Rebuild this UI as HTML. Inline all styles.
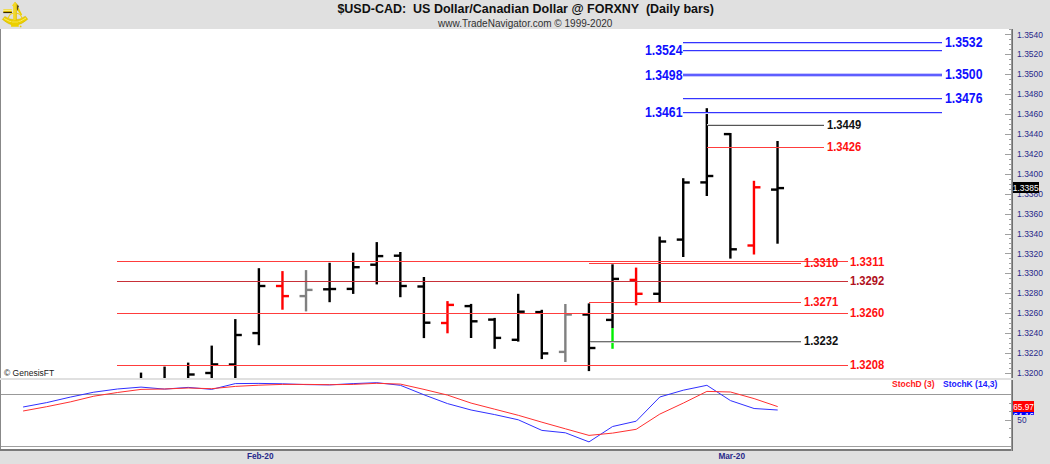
<!DOCTYPE html>
<html><head><meta charset="utf-8"><title>USD-CAD</title>
<style>
html,body{margin:0;padding:0;background:#e0e0e0;}
body{width:1050px;height:464px;overflow:hidden;position:relative;}
svg{position:absolute;left:0;top:0;}
text{font-family:"Liberation Sans",Arial,sans-serif;}
</style></head><body>
<svg width="1050" height="464" viewBox="0 0 1050 464">
<rect x="0" y="0" width="1050" height="464" fill="#e0e0e0"/>
<g>
<defs>
<linearGradient id="gt" x1="0" y1="0" x2="0" y2="1"><stop offset="0" stop-color="#f0d000"/><stop offset="0.35" stop-color="#fff8a0"/><stop offset="0.7" stop-color="#f0d000"/><stop offset="1" stop-color="#c8a000"/></linearGradient>
<linearGradient id="ga" x1="0" y1="0" x2="1" y2="0"><stop offset="0" stop-color="#f8e040"/><stop offset="0.5" stop-color="#f0d000"/><stop offset="1" stop-color="#d8b800"/></linearGradient>
</defs>
<path d="M2.4,19.4 L4.8,16.4 Q15,23.2 25.4,16.2 L27.8,19.2 Q15,31 2.4,19.4 Z" fill="#ecd000" stroke="#c8a800" stroke-width="0.4"/>
<path d="M4,18.5 Q15,26 26,18" fill="none" stroke="#fff080" stroke-width="0.8"/>
<rect x="3.3" y="9.2" width="8.6" height="3" fill="url(#gt)"/>
<rect x="3.3" y="11.9" width="8.6" height="1.2" fill="#3a2c00"/>
<path d="M8.3,18.6 Q9,13.8 13.2,13.2" fill="none" stroke="#f0d020" stroke-width="1.1"/>
<path d="M16.6,13.2 Q21,13.6 21.8,18.4" fill="none" stroke="#f0d020" stroke-width="1.1"/>
<path d="M16.2,6 L19,8.5 L22.2,14.8 L20.8,15.6 L16.4,8.6 Z" fill="#ecd000"/>
<path d="M17.4,4.6 L19,6.2 L18.4,7.4 L17.6,10.6 L17,10.4 L16.8,6.4 Z" fill="#5a4a18"/>
<path d="M15,1.8 L17.6,4.6 L16.8,6.4 L16.8,21 L13.2,21 L13.2,6.4 L11.9,5.4 Z" fill="url(#ga)"/>
<path d="M14.6,3 L15.4,3 L15.4,20 L14.6,20 Z" fill="#fff39a" opacity="0.6"/>
<path d="M11.4,20.6 L18.4,20.6 L18.8,26.8 L11,26.8 Z" fill="#ecd000"/>
<path d="M12,22 L18,22" stroke="#fff080" stroke-width="0.6"/>
<circle cx="20.6" cy="26.4" r="0.9" fill="#e8c800"/>
</g>
<text x="525.7" y="13.2" text-anchor="middle" font-size="12.5" font-weight="bold" fill="#101010" xml:space="preserve" style="white-space:pre">$USD-CAD:  US Dollar/Canadian Dollar @ FORXNY  (Daily bars)</text>
<text x="525.2" y="26.6" text-anchor="middle" font-size="10" fill="#303030">www.TradeNavigator.com © 1999-2020</text>
<g shape-rendering="crispEdges">
<rect x="0" y="29" width="1" height="349" fill="#888"/>
<rect x="1" y="29" width="1010" height="349" fill="#fff"/>
<rect x="0" y="380" width="1" height="71" fill="#888"/>
<rect x="1" y="380" width="1010" height="66" fill="#fff"/>
<rect x="1" y="446" width="1010" height="1" fill="#a0a0a0"/>
<rect x="1" y="447" width="1010" height="2" fill="#fff"/>
<rect x="0" y="449" width="1013" height="2" fill="#7a7a7a"/>
<rect x="1" y="394" width="1010" height="1" fill="#999"/>
</g>
<g><rect x="139.81" y="372.60" width="2.4" height="5.40" fill="#000"/><rect x="163.38" y="366.60" width="2.4" height="11.40" fill="#000"/><rect x="186.96" y="362.60" width="2.4" height="15.40" fill="#000"/><rect x="188.16" y="373.30" width="6.50" height="2.4" fill="#000"/><rect x="210.53" y="345.60" width="2.4" height="32.40" fill="#000"/><rect x="205.23" y="371.80" width="6.50" height="2.4" fill="#000"/><rect x="211.73" y="363.20" width="6.50" height="2.4" fill="#000"/><rect x="234.11" y="319.10" width="2.4" height="58.90" fill="#000"/><rect x="228.81" y="363.30" width="6.50" height="2.4" fill="#000"/><rect x="235.31" y="333.80" width="6.50" height="2.4" fill="#000"/><rect x="257.69" y="268.20" width="2.4" height="77.00" fill="#000"/><rect x="252.38" y="331.90" width="6.50" height="2.4" fill="#000"/><rect x="258.88" y="284.80" width="6.50" height="2.4" fill="#000"/><rect x="281.26" y="271.10" width="2.4" height="38.60" fill="#f00"/><rect x="275.96" y="284.80" width="6.50" height="2.4" fill="#f00"/><rect x="282.46" y="294.90" width="6.50" height="2.4" fill="#f00"/><rect x="304.83" y="270.10" width="2.4" height="41.30" fill="#808080"/><rect x="299.53" y="294.90" width="6.50" height="2.4" fill="#808080"/><rect x="306.03" y="288.70" width="6.50" height="2.4" fill="#808080"/><rect x="328.41" y="262.80" width="2.4" height="39.40" fill="#000"/><rect x="323.11" y="288.10" width="6.50" height="2.4" fill="#000"/><rect x="329.61" y="287.80" width="6.50" height="2.4" fill="#000"/><rect x="351.98" y="252.70" width="2.4" height="41.20" fill="#000"/><rect x="346.68" y="287.70" width="6.50" height="2.4" fill="#000"/><rect x="353.18" y="266.00" width="6.50" height="2.4" fill="#000"/><rect x="375.56" y="242.10" width="2.4" height="42.30" fill="#000"/><rect x="370.26" y="263.50" width="6.50" height="2.4" fill="#000"/><rect x="376.76" y="254.90" width="6.50" height="2.4" fill="#000"/><rect x="399.13" y="252.00" width="2.4" height="45.20" fill="#000"/><rect x="393.83" y="254.50" width="6.50" height="2.4" fill="#000"/><rect x="400.33" y="284.80" width="6.50" height="2.4" fill="#000"/><rect x="422.71" y="277.00" width="2.4" height="61.10" fill="#000"/><rect x="417.41" y="285.30" width="6.50" height="2.4" fill="#000"/><rect x="423.91" y="321.50" width="6.50" height="2.4" fill="#000"/><rect x="446.28" y="301.10" width="2.4" height="32.20" fill="#f00"/><rect x="440.98" y="321.80" width="6.50" height="2.4" fill="#f00"/><rect x="447.48" y="303.70" width="6.50" height="2.4" fill="#f00"/><rect x="469.86" y="303.90" width="2.4" height="34.10" fill="#000"/><rect x="464.56" y="304.90" width="6.50" height="2.4" fill="#000"/><rect x="471.06" y="320.10" width="6.50" height="2.4" fill="#000"/><rect x="493.44" y="317.90" width="2.4" height="30.90" fill="#000"/><rect x="488.13" y="318.40" width="6.50" height="2.4" fill="#000"/><rect x="494.63" y="336.70" width="6.50" height="2.4" fill="#000"/><rect x="517.01" y="293.80" width="2.4" height="47.80" fill="#000"/><rect x="511.71" y="338.60" width="6.50" height="2.4" fill="#000"/><rect x="518.21" y="310.50" width="6.50" height="2.4" fill="#000"/><rect x="540.58" y="309.80" width="2.4" height="49.30" fill="#000"/><rect x="535.28" y="310.90" width="6.50" height="2.4" fill="#000"/><rect x="541.78" y="352.20" width="6.50" height="2.4" fill="#000"/><rect x="564.16" y="304.00" width="2.4" height="58.00" fill="#808080"/><rect x="558.86" y="350.70" width="6.50" height="2.4" fill="#808080"/><rect x="565.36" y="313.30" width="6.50" height="2.4" fill="#808080"/><rect x="587.73" y="303.40" width="2.4" height="67.70" fill="#000"/><rect x="582.43" y="313.30" width="6.50" height="2.4" fill="#000"/><rect x="588.93" y="346.80" width="6.50" height="2.4" fill="#000"/><rect x="611.31" y="264.30" width="2.4" height="63.70" fill="#000"/><rect x="611.31" y="328" width="2.4" height="20.80" fill="#00f000"/><rect x="606.01" y="318.70" width="6.50" height="2.4" fill="#000"/><rect x="612.51" y="277.70" width="6.50" height="2.4" fill="#000"/><rect x="634.88" y="267.60" width="2.4" height="37.70" fill="#f00"/><rect x="629.59" y="278.70" width="6.50" height="2.4" fill="#f00"/><rect x="636.09" y="292.60" width="6.50" height="2.4" fill="#f00"/><rect x="658.46" y="236.60" width="2.4" height="65.40" fill="#000"/><rect x="653.16" y="292.60" width="6.50" height="2.4" fill="#000"/><rect x="659.66" y="240.30" width="6.50" height="2.4" fill="#000"/><rect x="682.03" y="178.20" width="2.4" height="78.80" fill="#000"/><rect x="676.74" y="238.40" width="6.50" height="2.4" fill="#000"/><rect x="683.24" y="181.30" width="6.50" height="2.4" fill="#000"/><rect x="705.61" y="108.20" width="2.4" height="87.80" fill="#000"/><rect x="700.31" y="181.20" width="6.50" height="2.4" fill="#000"/><rect x="706.81" y="174.80" width="6.50" height="2.4" fill="#000"/><rect x="729.18" y="133.00" width="2.4" height="125.60" fill="#000"/><rect x="723.88" y="132.90" width="6.50" height="2.4" fill="#000"/><rect x="730.38" y="248.10" width="6.50" height="2.4" fill="#000"/><rect x="752.76" y="180.80" width="2.4" height="73.70" fill="#f00"/><rect x="747.46" y="244.30" width="6.50" height="2.4" fill="#f00"/><rect x="753.96" y="186.10" width="6.50" height="2.4" fill="#f00"/><rect x="776.33" y="141.00" width="2.4" height="102.70" fill="#000"/><rect x="771.03" y="188.40" width="6.50" height="2.4" fill="#000"/><rect x="777.53" y="186.90" width="6.50" height="2.4" fill="#000"/></g>
<g shape-rendering="crispEdges"><rect x="683" y="42" width="259" height="1" fill="#3434ff"/><rect x="683" y="43" width="259" height="1" fill="#c8c8ff"/><rect x="683" y="50" width="259" height="1" fill="#3434ff"/><rect x="683" y="51" width="259" height="1" fill="#d0d0ff"/><rect x="683" y="73" width="259" height="1" fill="#c8c8ff"/><rect x="683" y="74" width="259" height="2" fill="#5e5eff"/><rect x="683" y="76" width="259" height="1" fill="#c8c8ff"/><rect x="683" y="98" width="259" height="1" fill="#3434ff"/><rect x="683" y="99" width="259" height="1" fill="#d0d0ff"/><rect x="683" y="112" width="259" height="1" fill="#3434ff"/><rect x="683" y="113" width="259" height="1" fill="#d0d0ff"/><rect x="707" y="124" width="117" height="1" fill="#d8d8d8"/><rect x="707" y="125" width="117" height="1" fill="#555555"/><rect x="707" y="147" width="117" height="1" fill="#ff3c3c"/><rect x="117" y="261" width="731" height="1" fill="#ff3c3c"/><rect x="589" y="263" width="212" height="1" fill="#ff3c3c"/><rect x="117" y="281" width="731" height="1" fill="#c83038"/><rect x="589" y="302" width="212" height="1" fill="#ff3c3c"/><rect x="117" y="313" width="731" height="1" fill="#ff3c3c"/><rect x="590" y="341" width="211" height="1" fill="#707070"/><rect x="590" y="342" width="211" height="1" fill="#cccccc"/><rect x="117" y="365" width="731" height="1" fill="#ff3c3c"/></g>
<g><polyline points="23.1,407.0 46.7,402.6 70.3,397.1 93.8,392.2 117.4,389.0 141.0,387.1 164.6,389.1 188.2,387.4 211.7,389.4 235.3,383.6 258.9,383.4 282.5,383.8 306.1,384.6 329.6,384.9 353.2,383.6 376.8,382.7 400.4,385.3 424.0,394.8 447.5,403.6 471.1,410.0 494.7,414.6 518.3,419.8 541.9,430.4 565.4,432.8 589.0,441.9 612.6,426.5 636.2,421.2 659.8,397.0 683.3,390.2 706.9,385.3 730.5,400.6 754.1,408.5 777.7,410.0" fill="none" stroke="#3030ff" stroke-width="1"/><polyline points="23.1,411.0 46.7,406.7 70.3,401.9 93.8,396.2 117.4,392.5 141.0,389.4 164.6,389.0 188.2,388.0 211.7,388.7 235.3,386.4 258.9,385.2 282.5,384.4 306.1,384.4 329.6,384.7 353.2,384.4 376.8,383.3 400.4,384.1 424.0,389.4 447.5,395.1 471.1,403.1 494.7,409.2 518.3,415.3 541.9,422.2 565.4,428.8 589.0,435.4 612.6,433.1 636.2,429.3 659.8,414.1 683.3,403.1 706.9,391.4 730.5,392.0 754.1,398.6 777.7,406.6" fill="none" stroke="#ff3030" stroke-width="1"/></g>
<text x="945" y="46.9" fill="#1010ff" font-size="13.8" font-weight="bold" textLength="37.5" lengthAdjust="spacingAndGlyphs">1.3532</text><text x="645" y="55.3" fill="#1010ff" font-size="13.8" font-weight="bold" textLength="37.5" lengthAdjust="spacingAndGlyphs">1.3524</text><text x="645" y="79.9" fill="#1010ff" font-size="13.8" font-weight="bold" textLength="37.5" lengthAdjust="spacingAndGlyphs">1.3498</text><text x="945" y="78.9" fill="#1010ff" font-size="13.8" font-weight="bold" textLength="37.5" lengthAdjust="spacingAndGlyphs">1.3500</text><text x="945" y="102.9" fill="#1010ff" font-size="13.8" font-weight="bold" textLength="37.5" lengthAdjust="spacingAndGlyphs">1.3476</text><text x="645" y="116.9" fill="#1010ff" font-size="13.8" font-weight="bold" textLength="37.5" lengthAdjust="spacingAndGlyphs">1.3461</text><text x="827" y="129.0" fill="#101010" font-size="12.1" font-weight="bold" textLength="34.3" lengthAdjust="spacingAndGlyphs">1.3449</text><text x="827" y="151.0" fill="#ff1010" font-size="12.1" font-weight="bold" textLength="34.3" lengthAdjust="spacingAndGlyphs">1.3426</text><text x="850" y="265.5" fill="#ff1010" font-size="12.1" font-weight="bold" textLength="34.3" lengthAdjust="spacingAndGlyphs">1.3311</text><text x="804" y="266.8" fill="#ff1010" font-size="12.1" font-weight="bold" textLength="34.3" lengthAdjust="spacingAndGlyphs">1.3310</text><text x="850" y="285.0" fill="#b01020" font-size="12.1" font-weight="bold" textLength="34.3" lengthAdjust="spacingAndGlyphs">1.3292</text><text x="804" y="306.3" fill="#ff1010" font-size="12.1" font-weight="bold" textLength="34.3" lengthAdjust="spacingAndGlyphs">1.3271</text><text x="850" y="317.0" fill="#ff1010" font-size="12.1" font-weight="bold" textLength="34.3" lengthAdjust="spacingAndGlyphs">1.3260</text><text x="804" y="345.0" fill="#101010" font-size="12.1" font-weight="bold" textLength="34.3" lengthAdjust="spacingAndGlyphs">1.3232</text><text x="850" y="368.5" fill="#ff1010" font-size="12.1" font-weight="bold" textLength="34.3" lengthAdjust="spacingAndGlyphs">1.3208</text>
<text x="4" y="376" font-size="8.5" fill="#202020">© GenesisFT</text>
<text x="892" y="387.2" font-size="8.5" font-weight="bold" fill="#ff2020">StochD (3)</text>
<text x="943" y="387.2" font-size="8.5" font-weight="bold" fill="#2020ff">StochK (14,3)</text>
<g shape-rendering="crispEdges"><rect x="1013" y="0" width="37" height="464" fill="#e0e0e0"/><rect x="1011" y="29" width="1" height="349" fill="#9a9a9a"/><rect x="1012" y="29" width="1" height="349" fill="#707070"/><rect x="1011" y="380" width="1" height="71" fill="#9a9a9a"/><rect x="1012" y="380" width="1" height="71" fill="#707070"/><rect x="1009" y="29" width="2" height="1" fill="#a0a0a0"/><rect x="1005" y="34" width="6" height="1" fill="#a0a0a0"/><rect x="1009" y="39" width="2" height="1" fill="#a0a0a0"/><rect x="1009" y="44" width="2" height="1" fill="#a0a0a0"/><rect x="1009" y="49" width="2" height="1" fill="#a0a0a0"/><rect x="1005" y="54" width="6" height="1" fill="#a0a0a0"/><rect x="1009" y="59" width="2" height="1" fill="#a0a0a0"/><rect x="1009" y="64" width="2" height="1" fill="#a0a0a0"/><rect x="1009" y="69" width="2" height="1" fill="#a0a0a0"/><rect x="1005" y="74" width="6" height="1" fill="#a0a0a0"/><rect x="1009" y="79" width="2" height="1" fill="#a0a0a0"/><rect x="1009" y="84" width="2" height="1" fill="#a0a0a0"/><rect x="1009" y="89" width="2" height="1" fill="#a0a0a0"/><rect x="1005" y="94" width="6" height="1" fill="#a0a0a0"/><rect x="1009" y="99" width="2" height="1" fill="#a0a0a0"/><rect x="1009" y="104" width="2" height="1" fill="#a0a0a0"/><rect x="1009" y="109" width="2" height="1" fill="#a0a0a0"/><rect x="1005" y="114" width="6" height="1" fill="#a0a0a0"/><rect x="1009" y="119" width="2" height="1" fill="#a0a0a0"/><rect x="1009" y="124" width="2" height="1" fill="#a0a0a0"/><rect x="1009" y="129" width="2" height="1" fill="#a0a0a0"/><rect x="1005" y="134" width="6" height="1" fill="#a0a0a0"/><rect x="1009" y="139" width="2" height="1" fill="#a0a0a0"/><rect x="1009" y="144" width="2" height="1" fill="#a0a0a0"/><rect x="1009" y="149" width="2" height="1" fill="#a0a0a0"/><rect x="1005" y="154" width="6" height="1" fill="#a0a0a0"/><rect x="1009" y="159" width="2" height="1" fill="#a0a0a0"/><rect x="1009" y="164" width="2" height="1" fill="#a0a0a0"/><rect x="1009" y="169" width="2" height="1" fill="#a0a0a0"/><rect x="1005" y="174" width="6" height="1" fill="#a0a0a0"/><rect x="1009" y="179" width="2" height="1" fill="#a0a0a0"/><rect x="1009" y="184" width="2" height="1" fill="#a0a0a0"/><rect x="1009" y="189" width="2" height="1" fill="#a0a0a0"/><rect x="1005" y="194" width="6" height="1" fill="#a0a0a0"/><rect x="1009" y="199" width="2" height="1" fill="#a0a0a0"/><rect x="1009" y="204" width="2" height="1" fill="#a0a0a0"/><rect x="1009" y="209" width="2" height="1" fill="#a0a0a0"/><rect x="1005" y="214" width="6" height="1" fill="#a0a0a0"/><rect x="1009" y="219" width="2" height="1" fill="#a0a0a0"/><rect x="1009" y="224" width="2" height="1" fill="#a0a0a0"/><rect x="1009" y="229" width="2" height="1" fill="#a0a0a0"/><rect x="1005" y="234" width="6" height="1" fill="#a0a0a0"/><rect x="1009" y="238" width="2" height="1" fill="#a0a0a0"/><rect x="1009" y="243" width="2" height="1" fill="#a0a0a0"/><rect x="1009" y="248" width="2" height="1" fill="#a0a0a0"/><rect x="1005" y="253" width="6" height="1" fill="#a0a0a0"/><rect x="1009" y="258" width="2" height="1" fill="#a0a0a0"/><rect x="1009" y="263" width="2" height="1" fill="#a0a0a0"/><rect x="1009" y="268" width="2" height="1" fill="#a0a0a0"/><rect x="1005" y="273" width="6" height="1" fill="#a0a0a0"/><rect x="1009" y="278" width="2" height="1" fill="#a0a0a0"/><rect x="1009" y="283" width="2" height="1" fill="#a0a0a0"/><rect x="1009" y="288" width="2" height="1" fill="#a0a0a0"/><rect x="1005" y="293" width="6" height="1" fill="#a0a0a0"/><rect x="1009" y="298" width="2" height="1" fill="#a0a0a0"/><rect x="1009" y="303" width="2" height="1" fill="#a0a0a0"/><rect x="1009" y="308" width="2" height="1" fill="#a0a0a0"/><rect x="1005" y="313" width="6" height="1" fill="#a0a0a0"/><rect x="1009" y="318" width="2" height="1" fill="#a0a0a0"/><rect x="1009" y="323" width="2" height="1" fill="#a0a0a0"/><rect x="1009" y="328" width="2" height="1" fill="#a0a0a0"/><rect x="1005" y="333" width="6" height="1" fill="#a0a0a0"/><rect x="1009" y="338" width="2" height="1" fill="#a0a0a0"/><rect x="1009" y="343" width="2" height="1" fill="#a0a0a0"/><rect x="1009" y="348" width="2" height="1" fill="#a0a0a0"/><rect x="1005" y="353" width="6" height="1" fill="#a0a0a0"/><rect x="1009" y="358" width="2" height="1" fill="#a0a0a0"/><rect x="1009" y="363" width="2" height="1" fill="#a0a0a0"/><rect x="1009" y="368" width="2" height="1" fill="#a0a0a0"/><rect x="1005" y="373" width="6" height="1" fill="#a0a0a0"/><text x="1017.1" y="37.5" fill="#28288a" font-size="9.8" textLength="25.9" lengthAdjust="spacingAndGlyphs">1.3540</text><text x="1017.1" y="57.4" fill="#28288a" font-size="9.8" textLength="25.9" lengthAdjust="spacingAndGlyphs">1.3520</text><text x="1017.1" y="77.3" fill="#28288a" font-size="9.8" textLength="25.9" lengthAdjust="spacingAndGlyphs">1.3500</text><text x="1017.1" y="97.2" fill="#28288a" font-size="9.8" textLength="25.9" lengthAdjust="spacingAndGlyphs">1.3480</text><text x="1017.1" y="117.1" fill="#28288a" font-size="9.8" textLength="25.9" lengthAdjust="spacingAndGlyphs">1.3460</text><text x="1017.1" y="137.0" fill="#28288a" font-size="9.8" textLength="25.9" lengthAdjust="spacingAndGlyphs">1.3440</text><text x="1017.1" y="157.0" fill="#28288a" font-size="9.8" textLength="25.9" lengthAdjust="spacingAndGlyphs">1.3420</text><text x="1017.1" y="176.9" fill="#28288a" font-size="9.8" textLength="25.9" lengthAdjust="spacingAndGlyphs">1.3400</text><text x="1017.1" y="196.8" fill="#28288a" font-size="9.8" textLength="25.9" lengthAdjust="spacingAndGlyphs">1.3380</text><text x="1017.1" y="216.7" fill="#28288a" font-size="9.8" textLength="25.9" lengthAdjust="spacingAndGlyphs">1.3360</text><text x="1017.1" y="236.6" fill="#28288a" font-size="9.8" textLength="25.9" lengthAdjust="spacingAndGlyphs">1.3340</text><text x="1017.1" y="256.5" fill="#28288a" font-size="9.8" textLength="25.9" lengthAdjust="spacingAndGlyphs">1.3320</text><text x="1017.1" y="276.4" fill="#28288a" font-size="9.8" textLength="25.9" lengthAdjust="spacingAndGlyphs">1.3300</text><text x="1017.1" y="296.3" fill="#28288a" font-size="9.8" textLength="25.9" lengthAdjust="spacingAndGlyphs">1.3280</text><text x="1017.1" y="316.2" fill="#28288a" font-size="9.8" textLength="25.9" lengthAdjust="spacingAndGlyphs">1.3260</text><text x="1017.1" y="336.1" fill="#28288a" font-size="9.8" textLength="25.9" lengthAdjust="spacingAndGlyphs">1.3240</text><text x="1017.1" y="356.1" fill="#28288a" font-size="9.8" textLength="25.9" lengthAdjust="spacingAndGlyphs">1.3220</text><text x="1017.1" y="376.0" fill="#28288a" font-size="9.8" textLength="25.9" lengthAdjust="spacingAndGlyphs">1.3200</text><rect x="1013" y="182" width="26" height="11" fill="#000"/><text x="1012.8" y="191" fill="#fff" font-size="9.8" textLength="25.9" lengthAdjust="spacingAndGlyphs">1.3385</text><rect x="1009" y="403" width="2" height="1" fill="#a0a0a0"/><rect x="1009" y="411" width="2" height="1" fill="#a0a0a0"/><rect x="1005" y="420" width="6" height="1" fill="#a0a0a0"/><rect x="1009" y="428" width="2" height="1" fill="#a0a0a0"/><rect x="1009" y="437" width="2" height="1" fill="#a0a0a0"/><text x="1017.3" y="423.4" fill="#28288a" font-size="9.8" textLength="9.2" lengthAdjust="spacingAndGlyphs">50</text><defs><clipPath id="kc"><rect x="1013" y="412" width="21" height="3"/></clipPath></defs><rect x="1013" y="412" width="21" height="3" fill="#0000ff"/><text x="1013.2" y="418.8" fill="#fff" font-size="9.8" textLength="20.6" lengthAdjust="spacingAndGlyphs" clip-path="url(#kc)">64.16</text><rect x="1013" y="401" width="21" height="11" fill="#ff0000"/><text x="1013.2" y="409.8" fill="#fff" font-size="9.8" textLength="20.6" lengthAdjust="spacingAndGlyphs">65.97</text></g>
<text x="260.2" y="459.2" text-anchor="middle" font-size="9" font-weight="bold" textLength="26.6" lengthAdjust="spacingAndGlyphs" fill="#28288a">Feb-20</text>
<text x="731.7" y="459.2" text-anchor="middle" font-size="9" font-weight="bold" textLength="26.6" lengthAdjust="spacingAndGlyphs" fill="#28288a">Mar-20</text>
</svg>
</body></html>
